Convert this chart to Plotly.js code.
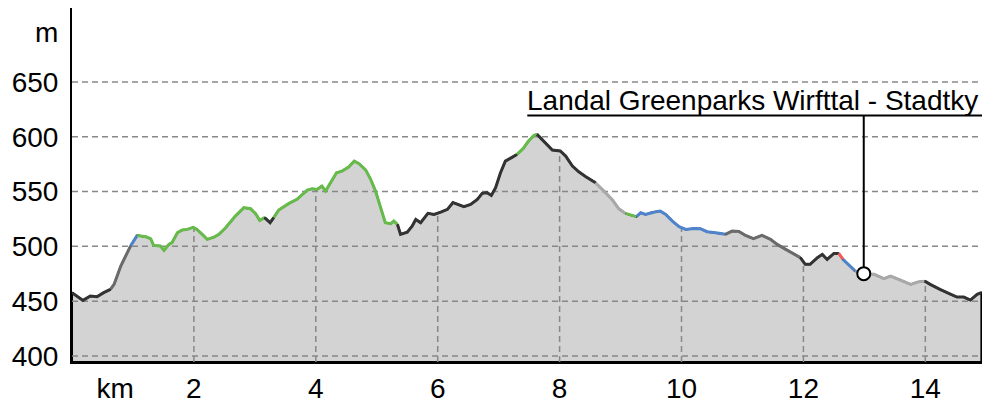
<!DOCTYPE html>
<html>
<head>
<meta charset="utf-8">
<script src="https://cdn.plot.ly/plotly-3.0.1.min.js"></script>
<style>html,body{margin:0;padding:0;background:#fff;}#chart{width:999px;height:406px;}</style>
</head>
<body>
<div id="chart"></div>
<script>
// ---- data ----
const distKm = [0.00,0.06,0.18,0.30,0.41,0.52,0.63,0.69,0.80,0.96,1.07,1.21,1.29,1.34,1.45,1.51,1.59,1.64,1.73,1.81,1.89,1.99,2.05,2.14,2.22,2.33,2.41,2.52,2.68,2.82,2.93,3.01,3.08,3.16,3.25,3.31,3.39,3.56,3.69,3.86,3.94,4.02,4.10,4.16,4.24,4.34,4.43,4.54,4.63,4.71,4.82,4.90,4.98,5.06,5.14,5.23,5.28,5.34,5.39,5.50,5.58,5.64,5.72,5.84,5.94,6.05,6.16,6.25,6.35,6.43,6.54,6.65,6.73,6.81,6.88,6.95,7.03,7.11,7.19,7.30,7.40,7.49,7.58,7.63,7.74,7.88,8.01,8.10,8.21,8.32,8.43,8.59,8.73,8.86,8.97,9.08,9.16,9.26,9.33,9.41,9.49,9.56,9.65,9.74,9.85,9.96,10.07,10.20,10.31,10.42,10.56,10.72,10.83,10.94,11.05,11.18,11.32,11.46,11.57,11.71,11.84,11.95,12.03,12.11,12.23,12.31,12.39,12.50,12.58,12.65,12.75,12.85,12.99,13.16,13.32,13.43,13.59,13.76,13.87,13.99,14.08,14.24,14.41,14.52,14.63,14.74,14.85,14.92];
const elevation = [457.8,455.3,450.7,454.7,454.1,457.8,460.8,465.3,482,500.3,510,508.8,507,500.9,500.3,496.4,501.8,503.4,512.5,514.9,515.5,517.3,515.5,511,506.4,508.5,511,517,527.6,535.3,534.4,530,523.7,526.2,521.6,526.2,533.1,539.2,542.9,551.4,552.6,552,555,550.5,558.1,567.2,568.7,572.4,577.8,575.4,569.6,561.1,550.5,536.8,521.6,520.7,523.1,520,511,513,518.5,524.6,521.6,530.1,529.2,531.3,533.8,539.9,537.7,536.2,538.3,542.9,548.4,549,546.5,553.6,567.2,577.8,580.3,583.9,589.1,596.1,601.3,602.2,596.1,587.9,587,582.4,573.3,567.8,563.6,558.1,550.5,542.9,534.4,530.1,528.6,527.1,530.7,529.2,530.7,531.3,532.2,529.2,523.1,518,515.5,516.4,516.1,513.4,512.5,511,514,513.7,510,507,510,506.4,501.8,497.3,493.6,489.7,483.6,483.6,489.7,492.7,488.1,493.6,493.6,488.1,482.7,477.5,475.1,474.5,470.5,472.9,469.3,465.3,467.4,468.3,465.3,460.8,456.2,453.7,453.7,451,456.2,457.8];
// surface-type segment breaks (km) and colours
const segmentBreaks = [0,0.63,0.96,1.07,3.16,3.31,5.34,7.30,7.63,8.59,9.08,9.26,10.72,11.95,12.58,12.65,12.85,13.99,14.92];
const segmentColors = ['#333333','#6b6b6b','#4f84cc','#66bb4a','#333333','#66bb4a','#333333','#66bb4a','#333333','#a9a9a9','#66bb4a','#4f84cc','#6b6b6b','#333333','#f25a5a','#4f84cc','#a9a9a9','#333333'];
// axis ticks
const yTickVals = [400,450,500,550,600,650,695];
const yTickText = ['400','450','500','550','600','650','m'];
const xTickVals = [0.71,2,4,6,8,10,12,14];
const xTickText = ['km','2','4','6','8','10','12','14'];
const gridX = [2,4,6,8,10,12,14];
const gridY = [400,450,500,550,600,650];
// waypoint
const waypointKm = 12.99;
const waypointName = 'Landal Greenparks Wirfttal - Stadtky';
const labelKm = 7.47;
const labelElev = 619.5;

// ---- build ----
const yMin = 394.5, yMax = 717.5, xMax = 14.93;
function interp(x){
  for(let i=0;i<distKm.length-1;i++){
    if(x>=distKm[i] && x<=distKm[i+1]){
      const t=(x-distKm[i])/(distKm[i+1]-distKm[i]);
      return elevation[i]+t*(elevation[i+1]-elevation[i]);
    }
  }
  return elevation[elevation.length-1];
}
function idx(x){let b=0,d=1e9;distKm.forEach((v,i)=>{if(Math.abs(v-x)<d){d=Math.abs(v-x);b=i;}});return b;}
const lastX = distKm[distKm.length-1];
const traces = [];
traces.push({x:[0].concat(distKm,[lastX,0]), y:[yMin].concat(elevation,[yMin,yMin]), mode:'lines', fill:'toself', fillcolor:'#d3d3d3', line:{color:'#000',width:2}, hoverinfo:'skip', showlegend:false});
const hx=[],hy=[];
gridY.forEach(v=>{hx.push(0,xMax,null);hy.push(v,v,null);});
traces.push({x:hx,y:hy,mode:'lines',line:{color:'#888',width:1.5,dash:'6px,4px'},hoverinfo:'skip',showlegend:false});
const vx=[],vy=[];
gridX.forEach(v=>{vx.push(v,v,null);vy.push(yMin,interp(v),null);});
traces.push({x:vx,y:vy,mode:'lines',line:{color:'#888',width:1.5,dash:'6px,4px'},hoverinfo:'skip',showlegend:false});
for(let s=0;s<segmentColors.length;s++){
  const a=idx(segmentBreaks[s]), b=idx(segmentBreaks[s+1]);
  traces.push({x:distKm.slice(a,b+1), y:elevation.slice(a,b+1), mode:'lines', line:{color:segmentColors[s],width:3}, hoverinfo:'skip', showlegend:false});
}
const wpElev = interp(waypointKm);
traces.push({x:[labelKm,xMax,null,waypointKm,waypointKm], y:[labelElev,labelElev,null,labelElev,wpElev], mode:'lines', line:{color:'#000',width:2}, hoverinfo:'skip', showlegend:false});
traces.push({x:[waypointKm], y:[wpElev], mode:'markers', marker:{size:13,color:'#fff',line:{color:'#000',width:2}}, hoverinfo:'skip', showlegend:false});

const font = {family:'"Liberation Sans", Arial, sans-serif', size:28, color:'#000'};
const layout = {
  width:999, height:406,
  margin:{l:72,r:17,t:8,b:44,pad:0},
  paper_bgcolor:'#fff', plot_bgcolor:'#fff',
  font:font,
  xaxis:{range:[0,xMax], showgrid:false, zeroline:false, showline:true, linecolor:'#000', linewidth:2, ticks:'', tickvals:xTickVals, ticktext:xTickText, tickfont:font, ticklabelstandoff:0, fixedrange:true},
  yaxis:{range:[yMin,yMax], showgrid:false, zeroline:false, showline:true, linecolor:'#000', linewidth:2, ticks:'', tickvals:yTickVals, ticktext:yTickText, tickfont:font, ticklabelstandoff:6, fixedrange:true},
  annotations:[{x:labelKm, y:labelElev, xref:'x', yref:'y', xanchor:'left', yanchor:'bottom', text:waypointName, showarrow:false, font:font, xshift:-2, yshift:-3}],
  showlegend:false
};
Plotly.newPlot('chart', traces, layout, {staticPlot:true, displayModeBar:false});
</script>
</body>
</html>
